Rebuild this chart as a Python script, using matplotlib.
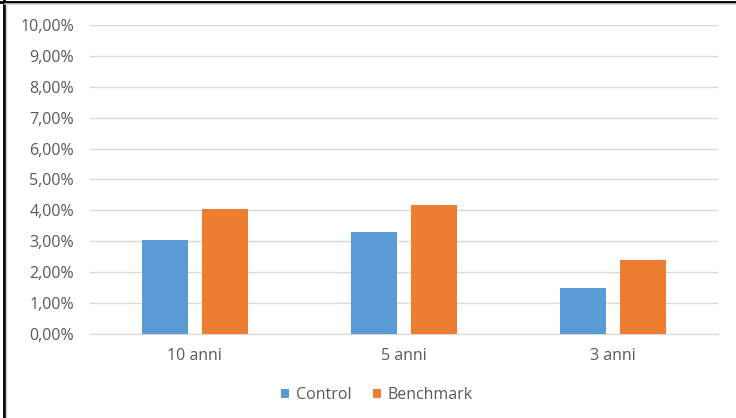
import matplotlib.pyplot as plt
import numpy as np
from matplotlib.ticker import FuncFormatter

categories = ["10 anni", "5 anni", "3 anni"]
control = [3.03, 3.31, 1.49]
benchmark = [4.04, 4.16, 2.41]
series_names = ["Control", "Benchmark"]

blue = "#5b9bd5"
orange = "#ed7d31"
text_gray = "#595959"
grid_gray = "#d9d9d9"

plt.rcParams["font.family"] = ["Open Sans", "DejaVu Sans"]

fig = plt.figure(figsize=(7.36, 4.18), dpi=100)
ax = fig.add_axes([90 / 736, 1 - 334 / 418, 628 / 736, 309 / 418])

x = np.arange(len(categories))
w = 0.22
off = 0.143
ax.bar(x - off, control, w, color=blue, label=series_names[0], zorder=3)
ax.bar(x + off, benchmark, w, color=orange, label=series_names[1], zorder=3)

ax.set_xlim(-0.5, len(categories) - 0.5)
ax.set_ylim(0, 10)
ax.set_yticks(np.arange(0, 11, 1))
ax.yaxis.set_major_formatter(FuncFormatter(lambda v, p: f"{v:.2f}%".replace(".", ",")))
ax.set_xticks(x)
ax.set_xticklabels(categories)
ax.grid(axis="y", color=grid_gray, linewidth=1, zorder=0)
for s in ["top", "right", "left"]:
    ax.spines[s].set_visible(False)
ax.spines["bottom"].set_color(grid_gray)
ax.tick_params(axis="both", length=0, labelsize=11.5, colors=text_gray)
ax.tick_params(axis="y", pad=11.5)
ax.tick_params(axis="x", pad=10)

ax.legend(loc="center", bbox_to_anchor=(377 / 736, 1 - 395 / 418),
          bbox_transform=fig.transFigure, ncol=2, frameon=False,
          fontsize=11.5, labelcolor=text_gray, handlelength=0.5, handleheight=0.5,
          handletextpad=0.45, columnspacing=1.3)

# frame edges along the left and top
fig.add_artist(plt.Line2D([4 / 736, 4 / 736], [0, 1], color="black", lw=2, transform=fig.transFigure))
fig.add_artist(plt.Line2D([5.5 / 736, 5.5 / 736], [0, 1 - 4 / 418], color="#d0d0d0", lw=1, transform=fig.transFigure))
fig.add_artist(plt.Line2D([0, 1], [1 - 2 / 418, 1 - 2 / 418], color="black", lw=2, transform=fig.transFigure))
fig.add_artist(plt.Line2D([5 / 736, 1], [1 - 4 / 418, 1 - 4 / 418], color="#d0d0d0", lw=1.2, transform=fig.transFigure))

fig.savefig("out.png", dpi=100)
